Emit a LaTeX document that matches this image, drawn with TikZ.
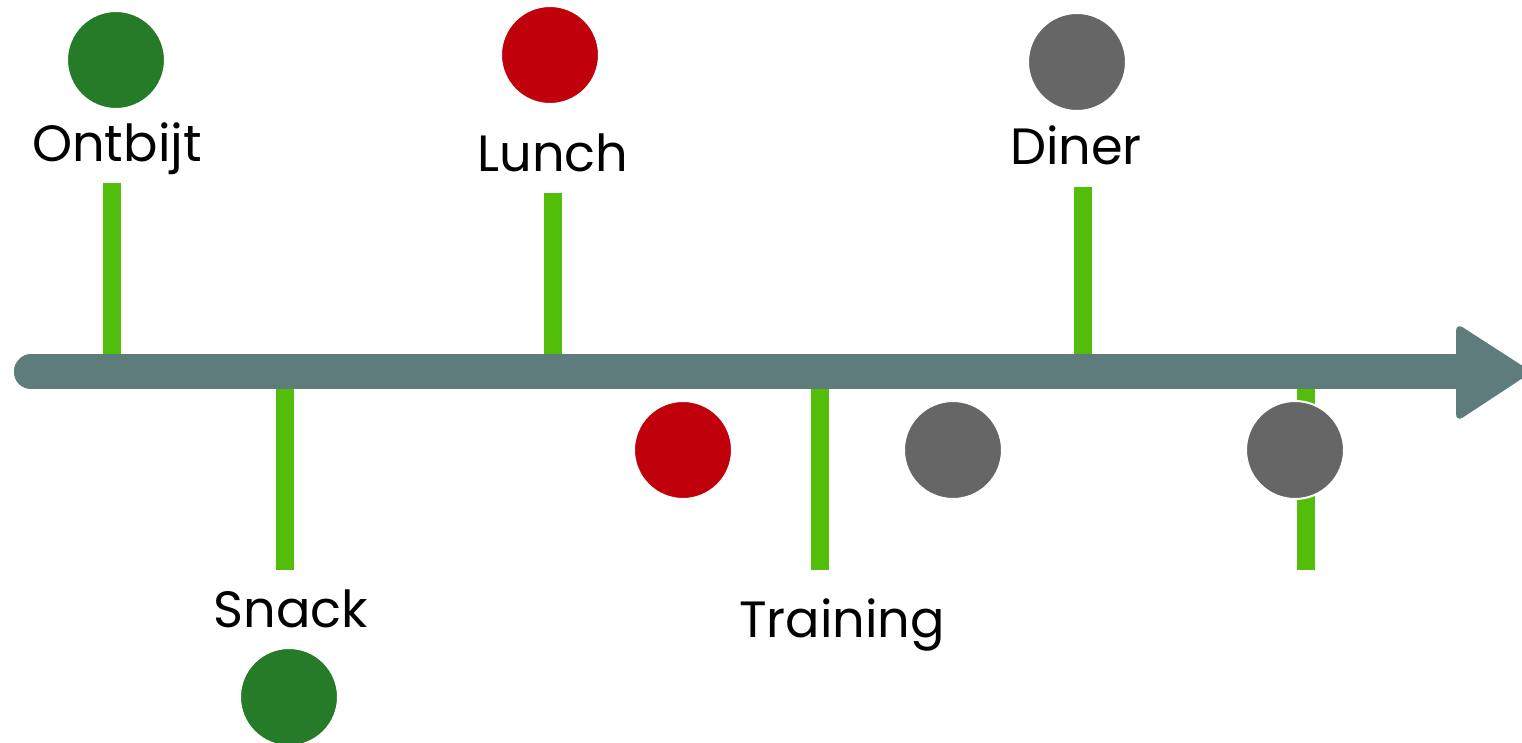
\documentclass[tikz,border=0pt]{standalone}
\usepackage{fontspec}
\setmainfont{Poppins}
\usepackage{tikz}
\usetikzlibrary{arrows.meta}

\definecolor{axisgray}{RGB}{95,124,124}
\definecolor{tickgreen}{RGB}{82,190,10}
\definecolor{dotgreen}{RGB}{38,123,40}
\definecolor{dotred}{RGB}{192,0,11}
\definecolor{dotgray}{RGB}{102,102,102}

\begin{document}
\begin{tikzpicture}[x=0.5pt,y=-0.5pt,font=\fontsize{25.5}{30}\selectfont,
  tick/.style={line width=9pt,tickgreen},
  dot/.style={circle,minimum size=49pt,inner sep=0pt,draw=white,line width=1pt},
  lbl/.style={inner sep=0pt,anchor=base}]
  \def\Ay{372}  % hoogte van de tijdlijn

  \useasboundingbox (0,0) rectangle (1522,743);

  % ================= tijdlijn =================
  \draw[line width=17.5pt,line cap=round,axisgray] (31.5,\Ay) -- (1462,\Ay);
  \fill[axisgray,rounded corners=4pt] (1456,323) -- (1532,\Ay) -- (1456,422) -- cycle;

  % ================= boven de lijn =================
  \node[dot,fill=dotgreen] (ontbijtdot) at (116,60) {};
  \node[lbl] (ontbijt) at (117,162) {Ontbijt};
  \coordinate (ontbijttop) at (111.5,183);
  \coordinate (ontbijtas) at (111.5,\Ay);
  \draw[tick] (ontbijttop) -- (ontbijtas);

  \node[dot,fill=dotred] (lunchdot) at (550,55) {};
  \node[lbl] (lunch) at (553,172) {Lunch};
  \coordinate (lunchtop) at (553,193);
  \coordinate (lunchas) at (553,\Ay);
  \draw[tick] (lunchtop) -- (lunchas);

  \node[dot,fill=dotgray] (dinerdot) at (1077,62) {};
  \node[lbl] (diner) at (1076,165) {Diner};
  \coordinate (dinertop) at (1083,187);
  \coordinate (dineras) at (1083,\Ay);
  \draw[tick] (dinertop) -- (dineras);

  % ================= onder de lijn =================
  \coordinate (snackas) at (285,\Ay);
  \coordinate (snackbot) at (285,570);
  \draw[tick] (snackas) -- (snackbot);
  \node[lbl] (snack) at (291,627) {Snack};
  \node[dot,fill=dotgreen] (snackdot) at (289,697) {};

  \coordinate (trainingas) at (820,\Ay);
  \coordinate (trainingbot) at (820,570);
  \draw[tick] (trainingas) -- (trainingbot);
  \node[lbl] (training) at (842,637) {Training};

  \node[dot,fill=dotred] (rooddot) at (683,450) {};
  \node[dot,fill=dotgray] (grijsdot) at (953,450) {};

  \coordinate (laatstas) at (1306,\Ay);
  \coordinate (laatstbot) at (1306,570);
  \draw[tick] (laatstas) -- (laatstbot);
  \node[dot,fill=dotgray] (laatstdot) at (1295,450) {};

  % as opnieuw over de streepjes
  \draw[line width=17.5pt,line cap=round,axisgray] (31.5,\Ay) -- (1462,\Ay);
\end{tikzpicture}
\end{document}
